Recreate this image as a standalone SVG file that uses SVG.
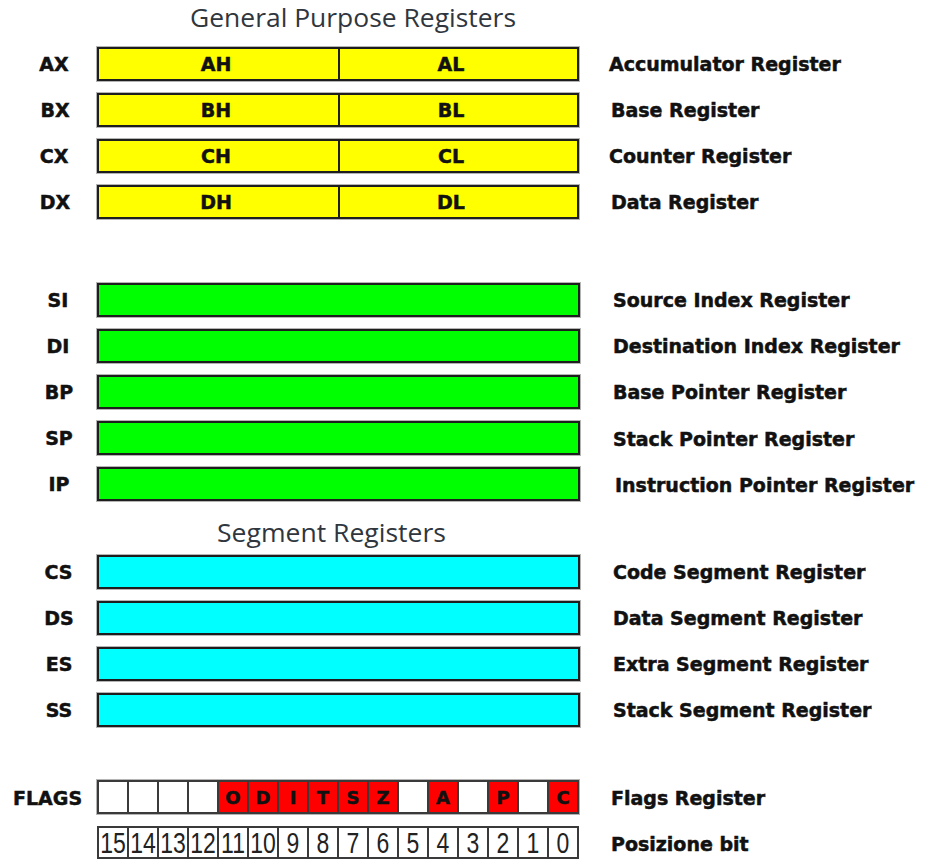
<svg xmlns="http://www.w3.org/2000/svg" width="925" height="860" viewBox="0 0 925 860">
  <style>
    .bg { fill: #ffffff; }
    .halo { fill: none; stroke: #b4b4b4; stroke-width: 4; }
    .box { stroke: #1e1e1e; stroke-width: 2; }
    .yellow { fill: #ffff00; }
    .green { fill: #00ff00; }
    .cyan { fill: #00ffff; }
    .red { fill: #ff0000; }
    .white { fill: #ffffff; }
    .div { stroke: #1e1e1e; stroke-width: 2; }
    .cell { stroke: #3a3a3a; stroke-width: 2; }
    .lbl { font-family: "DejaVu Sans", "Liberation Sans", sans-serif; font-weight: bold; font-size: 19px; fill: #111; stroke: #111; stroke-width: 0.5; }
    .mid { text-anchor: middle; }
    .flag { font-family: "DejaVu Sans", "Liberation Sans", sans-serif; font-weight: bold; font-size: 18px; fill: #111; stroke: #111; stroke-width: 0.5; text-anchor: middle; }
    .bit { font-family: "Liberation Sans", "DejaVu Sans", sans-serif; font-size: 23px; fill: #222; text-anchor: middle; }
    .title { font-family: "Open Sans", "Noto Sans", sans-serif; font-size: 26px; fill: #30363e; }
  </style>

  <rect class="bg" x="0" y="0" width="925" height="860"/>

  <!-- section titles -->
  <text id="title-gpr" class="title" x="190" y="27" textLength="326" lengthAdjust="spacingAndGlyphs">General Purpose Registers</text>
  <text id="title-seg" class="title" x="217" y="542" textLength="229" lengthAdjust="spacingAndGlyphs">Segment Registers</text>

  <!-- general purpose registers: 8-bit high / low halves -->
  <g id="reg-ax">
    <rect class="halo" x="98" y="48" width="480" height="32"/>
    <rect class="box yellow" x="98" y="48" width="480" height="32"/>
    <line class="div" x1="339" y1="48" x2="339" y2="80"/>
    <text class="lbl mid" x="54" y="71">AX</text>
    <text class="lbl mid" x="216" y="71">AH</text>
    <text class="lbl mid" x="451" y="71">AL</text>
    <text class="lbl" x="609" y="71">Accumulator Register</text>
  </g>
  <g id="reg-bx">
    <rect class="halo" x="98" y="94" width="480" height="32"/>
    <rect class="box yellow" x="98" y="94" width="480" height="32"/>
    <line class="div" x1="339" y1="94" x2="339" y2="126"/>
    <text class="lbl mid" x="55" y="117">BX</text>
    <text class="lbl mid" x="216" y="117">BH</text>
    <text class="lbl mid" x="451" y="117">BL</text>
    <text class="lbl" x="611" y="117">Base Register</text>
  </g>
  <g id="reg-cx">
    <rect class="halo" x="98" y="140" width="480" height="32"/>
    <rect class="box yellow" x="98" y="140" width="480" height="32"/>
    <line class="div" x1="339" y1="140" x2="339" y2="172"/>
    <text class="lbl mid" x="54" y="163">CX</text>
    <text class="lbl mid" x="216" y="163">CH</text>
    <text class="lbl mid" x="451" y="163">CL</text>
    <text class="lbl" x="609" y="163">Counter Register</text>
  </g>
  <g id="reg-dx">
    <rect class="halo" x="98" y="186" width="480" height="32"/>
    <rect class="box yellow" x="98" y="186" width="480" height="32"/>
    <line class="div" x1="339" y1="186" x2="339" y2="218"/>
    <text class="lbl mid" x="55" y="209">DX</text>
    <text class="lbl mid" x="216" y="209">DH</text>
    <text class="lbl mid" x="451" y="209">DL</text>
    <text class="lbl" x="611" y="209">Data Register</text>
  </g>

  <!-- index and pointer registers -->
  <g id="reg-si">
    <rect class="halo" x="98" y="284" width="481" height="32"/>
    <rect class="box green" x="98" y="284" width="481" height="32"/>
    <text class="lbl mid" x="58" y="307">SI</text>
    <text class="lbl" x="613" y="307">Source Index Register</text>
  </g>
  <g id="reg-di">
    <rect class="halo" x="98" y="330" width="481" height="32"/>
    <rect class="box green" x="98" y="330" width="481" height="32"/>
    <text class="lbl mid" x="58" y="353">DI</text>
    <text class="lbl" x="613" y="353">Destination Index Register</text>
  </g>
  <g id="reg-bp">
    <rect class="halo" x="98" y="376" width="481" height="32"/>
    <rect class="box green" x="98" y="376" width="481" height="32"/>
    <text class="lbl mid" x="59" y="399">BP</text>
    <text class="lbl" x="613" y="399">Base Pointer Register</text>
  </g>
  <g id="reg-sp">
    <rect class="halo" x="98" y="422" width="481" height="32"/>
    <rect class="box green" x="98" y="422" width="481" height="32"/>
    <text class="lbl mid" x="59" y="445">SP</text>
    <text class="lbl" x="613" y="446">Stack Pointer Register</text>
  </g>
  <g id="reg-ip">
    <rect class="halo" x="98" y="468" width="481" height="32"/>
    <rect class="box green" x="98" y="468" width="481" height="32"/>
    <text class="lbl mid" x="59" y="491">IP</text>
    <text class="lbl" x="615" y="492">Instruction Pointer Register</text>
  </g>

  <!-- segment registers -->
  <g id="reg-cs">
    <rect class="halo" x="98" y="556" width="481" height="32"/>
    <rect class="box cyan" x="98" y="556" width="481" height="32"/>
    <text class="lbl mid" x="58.5" y="579">CS</text>
    <text class="lbl" x="613" y="579">Code Segment Register</text>
  </g>
  <g id="reg-ds">
    <rect class="halo" x="98" y="602" width="481" height="32"/>
    <rect class="box cyan" x="98" y="602" width="481" height="32"/>
    <text class="lbl mid" x="59" y="625">DS</text>
    <text class="lbl" x="613" y="625">Data Segment Register</text>
  </g>
  <g id="reg-es">
    <rect class="halo" x="98" y="648" width="481" height="32"/>
    <rect class="box cyan" x="98" y="648" width="481" height="32"/>
    <text class="lbl mid" x="59" y="671">ES</text>
    <text class="lbl" x="613" y="671">Extra Segment Register</text>
  </g>
  <g id="reg-ss">
    <rect class="halo" x="98" y="694" width="481" height="32"/>
    <rect class="box cyan" x="98" y="694" width="481" height="32"/>
    <text class="lbl mid" x="59" y="717">SS</text>
    <text class="lbl" x="613" y="717">Stack Segment Register</text>
  </g>

  <!-- flags register: 16 one-bit cells, bit 15 on the left -->
  <g id="reg-flags">
    <rect class="halo" x="98" y="781" width="480" height="32"/>
    <rect class="cell white" x="98" y="781" width="30" height="32"/>
    <rect class="cell white" x="128" y="781" width="30" height="32"/>
    <rect class="cell white" x="158" y="781" width="30" height="32"/>
    <rect class="cell white" x="188" y="781" width="30" height="32"/>
    <rect class="cell red" x="218" y="781" width="30" height="32"/>
    <rect class="cell red" x="248" y="781" width="30" height="32"/>
    <rect class="cell red" x="278" y="781" width="30" height="32"/>
    <rect class="cell red" x="308" y="781" width="30" height="32"/>
    <rect class="cell red" x="338" y="781" width="30" height="32"/>
    <rect class="cell red" x="368" y="781" width="30" height="32"/>
    <rect class="cell white" x="398" y="781" width="30" height="32"/>
    <rect class="cell red" x="428" y="781" width="30" height="32"/>
    <rect class="cell white" x="458" y="781" width="30" height="32"/>
    <rect class="cell red" x="488" y="781" width="30" height="32"/>
    <rect class="cell white" x="518" y="781" width="30" height="32"/>
    <rect class="cell red" x="548" y="781" width="30" height="32"/>
    <text class="flag" x="233" y="804">O</text>
    <text class="flag" x="263" y="804">D</text>
    <text class="flag" x="293" y="804">I</text>
    <text class="flag" x="323" y="804">T</text>
    <text class="flag" x="353" y="804">S</text>
    <text class="flag" x="383" y="804">Z</text>
    <text class="flag" x="443" y="804">A</text>
    <text class="flag" x="503" y="804">P</text>
    <text class="flag" x="563" y="804">C</text>
    <text class="lbl" x="13" y="805">FLAGS</text>
    <text class="lbl" x="611" y="805">Flags Register</text>
  </g>

  <!-- bit positions -->
  <g id="bit-positions">
    <rect class="cell white" x="98" y="827" width="480" height="31"/>
    <path class="cell" fill="none" d="M128 827V858M158 827V858M188 827V858M218 827V858M248 827V858M278 827V858M308 827V858M338 827V858M368 827V858M398 827V858M428 827V858M458 827V858M488 827V858M518 827V858M548 827V858"/>
    <g transform="translate(0 853) scale(1 1.3)">
      <text class="bit" x="113" y="0">15</text>
      <text class="bit" x="143" y="0">14</text>
      <text class="bit" x="173" y="0">13</text>
      <text class="bit" x="203" y="0">12</text>
      <text class="bit" x="233" y="0">11</text>
      <text class="bit" x="263" y="0">10</text>
      <text class="bit" x="293" y="0">9</text>
      <text class="bit" x="323" y="0">8</text>
      <text class="bit" x="353" y="0">7</text>
      <text class="bit" x="383" y="0">6</text>
      <text class="bit" x="413" y="0">5</text>
      <text class="bit" x="443" y="0">4</text>
      <text class="bit" x="473" y="0">3</text>
      <text class="bit" x="503" y="0">2</text>
      <text class="bit" x="533" y="0">1</text>
      <text class="bit" x="563" y="0">0</text>
    </g>
    <text class="lbl" x="611" y="851">Posizione bit</text>
  </g>
</svg>
